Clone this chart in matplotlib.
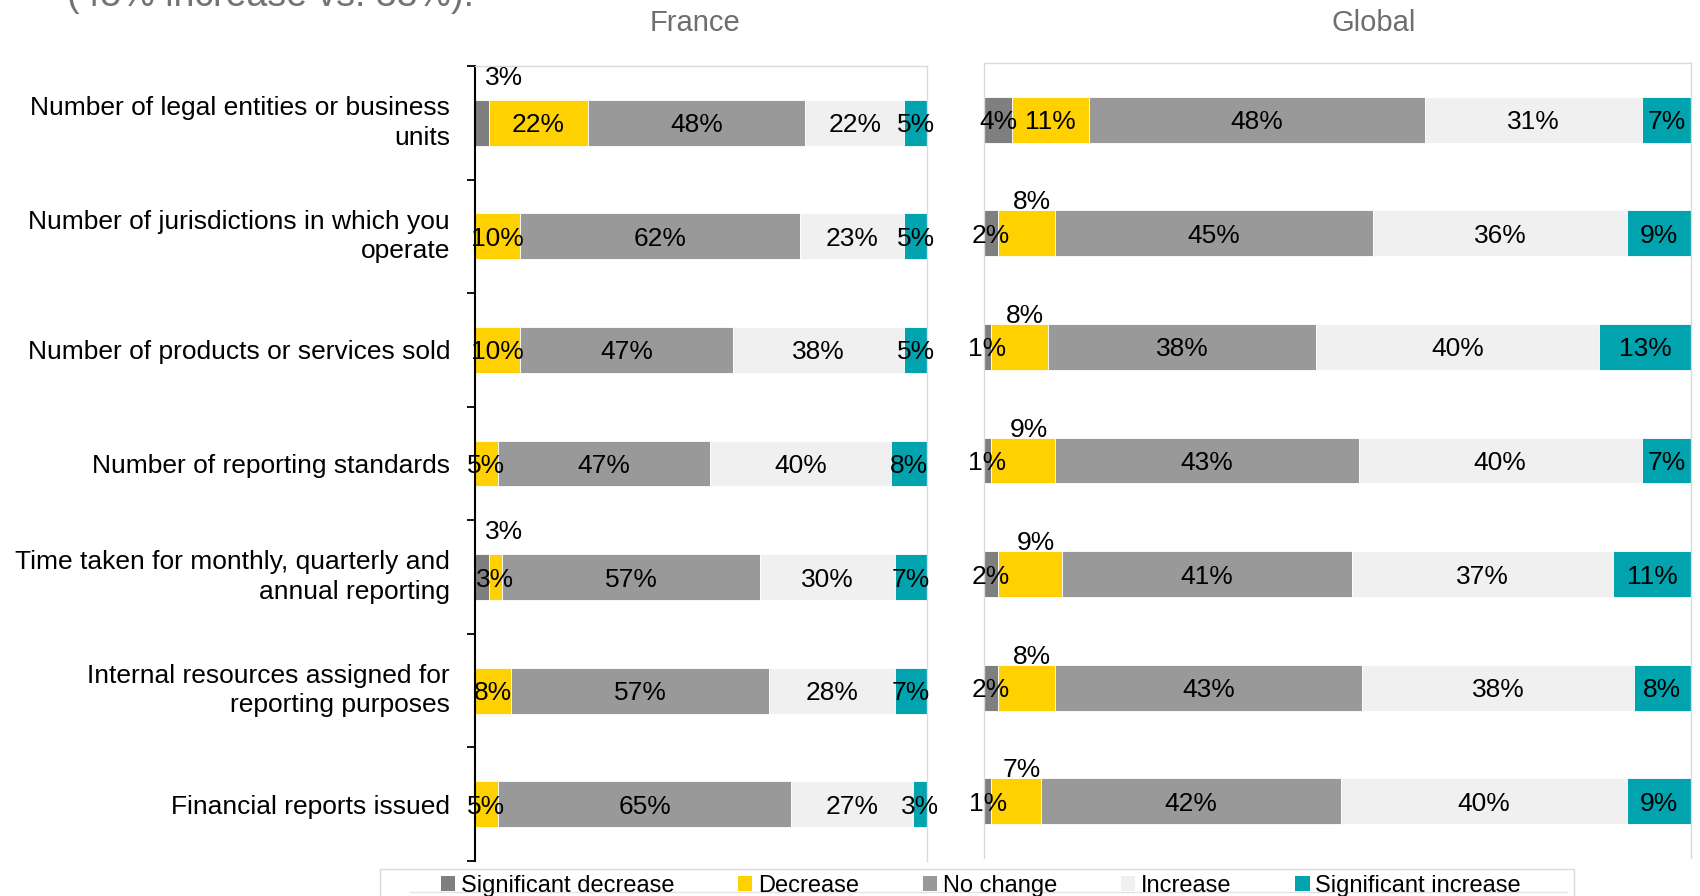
import matplotlib
matplotlib.use("Agg")
import matplotlib.pyplot as plt
from matplotlib.patches import Rectangle
from matplotlib.lines import Line2D
import numpy as np

plt.rcParams['font.family'] = ['Liberation Sans', 'DejaVu Sans']

categories = [
    "Number of legal entities or business\nunits",
    "Number of jurisdictions in which you\noperate",
    "Number of products or services sold",
    "Number of reporting standards",
    "Time taken for monthly, quarterly and\nannual reporting",
    "Internal resources assigned for\nreporting purposes",
    "Financial reports issued",
]
series_names = ["Significant decrease", "Decrease", "No change", "Increase",
                "Significant increase"]
series_colors = ["#7f7f7f", "#ffd100", "#999999", "#f0f0f0", "#00a3ae"]

france_sig_decrease = [3, 0, 0, 0, 3, 0, 0]
france_decrease = [22, 10, 10, 5, 3, 8, 5]
france_no_change = [48, 62, 47, 47, 57, 57, 65]
france_increase = [22, 23, 38, 40, 30, 28, 27]
france_sig_increase = [5, 5, 5, 8, 7, 7, 3]

global_sig_decrease = [4, 2, 1, 1, 2, 2, 1]
global_decrease = [11, 8, 8, 9, 9, 8, 7]
global_no_change = [48, 45, 38, 43, 41, 43, 42]
global_increase = [31, 36, 40, 40, 37, 38, 40]
global_sig_increase = [7, 9, 13, 7, 11, 8, 9]

panel_titles = ["France", "Global"]
headline = "(45% increase vs. 38%)."

# labels of thin segments that sit above the bar: (panel, row, series)
above_labels = {(0, 0, 0), (0, 4, 0)} | {(1, r, 1) for r in range(1, 7)}
above_offsets = [(16, 17.5), (4, 7.5)]  # points (dx, dy from bar top)

W, H = 1700, 896
fig = plt.figure(figsize=(W / 100, H / 100), dpi=100)

ax_fr = fig.add_axes([475 / W, 1 - 861 / H, (927 - 475) / W, (861 - 66) / H])
ax_gl = fig.add_axes([984 / W, 1 - 858 / H, (1691 - 984) / W, (858 - 63) / H])

panels = [
    np.array([france_sig_decrease, france_decrease, france_no_change,
              france_increase, france_sig_increase], dtype=float),
    np.array([global_sig_decrease, global_decrease, global_no_change,
              global_increase, global_sig_increase], dtype=float),
]

bar_h = 0.405
ypos = np.arange(len(categories))

for p, (ax, values) in enumerate(zip([ax_fr, ax_gl], panels)):
    # 100% stacked: each row spans its own total
    shares = values / values.sum(axis=0) * 100
    left = np.zeros(len(categories))
    for s in range(len(series_names)):
        ax.barh(ypos, shares[s], left=left, height=bar_h,
                color=series_colors[s], edgecolor="white", linewidth=0.6)
        for r in range(len(categories)):
            v = values[s, r]
            if v <= 0:
                continue
            cx = left[r] + shares[s, r] / 2
            txt = f"{int(v)}%"
            if (p, r, s) in above_labels:
                dx, dy = above_offsets[p]
                ax.annotate(txt, (cx, r - bar_h / 2), xytext=(dx, dy),
                            textcoords="offset points", ha="center",
                            va="center_baseline", fontsize=19, color="black")
            else:
                ax.text(cx, r, txt, ha="center", va="center_baseline",
                        fontsize=19, color="black")
        left += shares[s]

    ax.set_xlim(0, 100)
    ax.set_ylim(len(categories) - 0.5, -0.5)
    ax.set_xticks([])
    for side in ["top", "right", "left"]:
        ax.spines[side].set_color("#d9d9d9")
        ax.spines[side].set_linewidth(1)
    ax.spines["bottom"].set_visible(False)

# left panel: category axis
ax_fr.spines["left"].set_color("black")
ax_fr.spines["left"].set_linewidth(1.5)
ax_fr.set_yticks(ypos)
ax_fr.set_yticklabels(categories, fontsize=19, linespacing=1.3)
for lbl in ax_fr.get_yticklabels():
    if "\n" in lbl.get_text():
        lbl.set_verticalalignment("center")
ax_fr.set_yticks(np.arange(-0.5, len(categories), 1), minor=True)
ax_fr.tick_params(axis="y", which="major", length=0, pad=18)
ax_fr.tick_params(axis="y", which="minor", length=5.5, width=1.3,
                  direction="out", color="black")
ax_gl.set_yticks([])

# panel headers
fig.text(695 / W, 1 - 23 / H, panel_titles[0], ha="center", va="center",
         fontsize=21, color="#6e6e6e")
fig.text(1374 / W, 1 - 23 / H, panel_titles[1], ha="center", va="center",
         fontsize=21, color="#6e6e6e")

# headline running off the top edge
fig.text(67 / W, 1 - 6 / H, headline, ha="left", va="baseline",
         fontsize=27, color="#737373")

# legend
handles = [Rectangle((0, 0), 1, 1, facecolor=c) for c in series_colors]
fig.legend(handles, series_names, loc="center",
           bbox_to_anchor=(981 / W, 1 - 886 / H), ncol=5, frameon=False,
           fontsize=17, handlelength=0.6, handleheight=0.6,
           handletextpad=0.25, columnspacing=2.7, borderpad=0,
           borderaxespad=0)
fig.add_artist(Rectangle((380 / W, -0.05), (1574 - 380) / W,
                         (896 - 869) / H + 0.05, transform=fig.transFigure,
                         fill=False, edgecolor="#d9d9d9", linewidth=1))
fig.add_artist(Line2D([410 / W, 1567 / W], [1 - 892 / H, 1 - 892 / H],
                      transform=fig.transFigure, color="#e3e3e3",
                      linewidth=1))

fig.savefig("out.png", dpi=100, facecolor="white")
